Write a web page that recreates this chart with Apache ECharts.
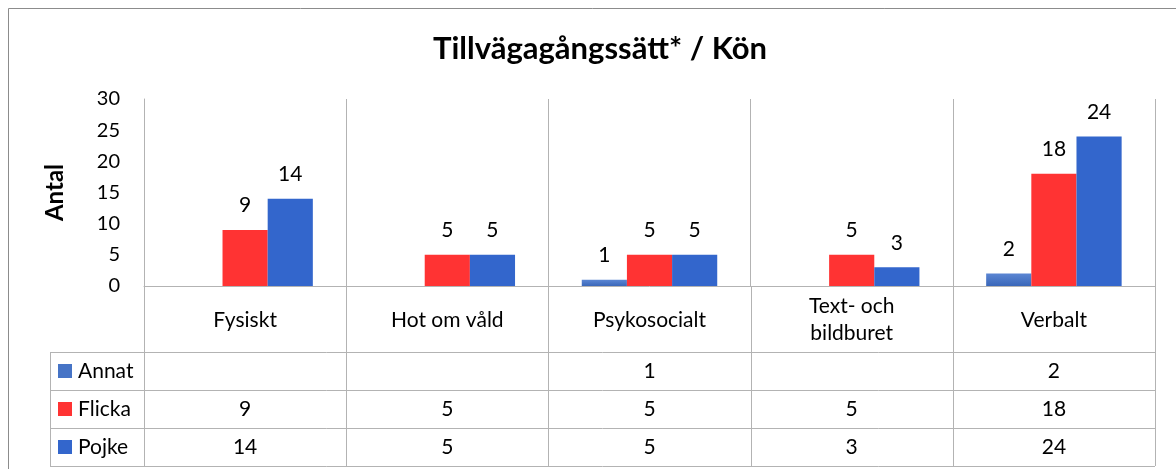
<!DOCTYPE html>
<html>
<head>
<meta charset="utf-8">
<script src="https://cdn.jsdelivr.net/npm/echarts@6/dist/echarts.min.js"></script>
<style>
html,body{margin:0;padding:0;background:#fff;}
#chart{width:1176px;height:469px;}
</style>
</head>
<body>
<div id="chart"></div>
<script>
const title = 'Tillvägagångssätt* / Kön';
const yName = 'Antal';
const categories = ['Fysiskt', 'Hot om våld', 'Psykosocialt', 'Text- och\nbildburet', 'Verbalt'];
const seriesNames = ['Annat', 'Flicka', 'Pojke'];
const annat = [null, null, 1, null, 2];
const flicka = [9, 5, 5, 5, 18];
const pojke = [14, 5, 5, 3, 24];
const yTicks = [0, 5, 10, 15, 20, 25, 30];

const FONT = 'Lato';
const FS = 21;
const GRID = '#b3b3b3';
const annatColor = {type:'linear', x:0, y:0, x2:0, y2:1, colorStops:[{offset:0,color:'#5b86d3'},{offset:1,color:'#3a67b9'}]};
const colors = [annatColor, '#ff3333', '#3366cc'];
const legendColors = ['#4674c6', '#ff3333', '#3366cc'];
const values = [annat, flicka, pojke];

const chart = echarts.init(document.getElementById('chart'), null, {renderer:'canvas'});
const gridL = 144, gridR = 21, gridT = 99, gridB = 183;

const option = {
  animation: false,
  title: {
    text: title, left: 595, top: 28, textAlign: 'center',
    textStyle: {fontFamily: FONT, fontWeight: 'bold', fontSize: 31, color: '#000'}
  },
  grid: {left: gridL, right: gridR, top: gridT, bottom: gridB, containLabel: false},
  xAxis: {
    type: 'category', data: categories,
    axisLine: {show: true, lineStyle: {color: GRID, width: 1}},
    axisTick: {show: false},
    splitLine: {show: true, lineStyle: {color: GRID, width: 1}},
    axisLabel: {fontFamily: FONT, fontSize: FS, color: '#000', margin: 34, verticalAlign: 'middle', lineHeight: 27, interval: 0}
  },
  yAxis: {
    type: 'value', min: yTicks[0], max: yTicks[yTicks.length-1], interval: 5,
    name: yName, nameLocation: 'middle', nameRotate: 90, nameGap: 77,
    nameTextStyle: {fontFamily: FONT, fontWeight: 'bold', fontSize: 24, color: '#000'},
    axisLine: {show: true, lineStyle: {color: GRID}},
    axisTick: {show: false},
    splitLine: {show: false},
    axisLabel: {fontFamily: FONT, fontSize: 20, color: '#000', margin: 24}
  },
  series: seriesNames.map((n, i) => ({
    name: n, type: 'bar', data: values[i],
    barGap: '0%', barCategoryGap: '33%',
    itemStyle: {color: colors[i]},
    label: {show: true, position: 'top', distance: 14, fontFamily: FONT, fontSize: FS, color: '#000'}
  }))
};
chart.setOption(option);

// Data table below the plot, positioned from the axis scale
function buildTable() {
  const n = categories.length;
  const x0 = chart.convertToPixel({xAxisIndex: 0}, 0);
  const x1 = chart.convertToPixel({xAxisIndex: 0}, 1);
  const band = x1 - x0;
  const left = x0 - band / 2;
  const right = left + band * n;
  const axisY = chart.convertToPixel({yAxisIndex: 0}, 0);
  const labelRowH = 66;
  const rowH = 38;
  const tableTop = axisY + labelRowH;
  const legendLeft = 50;
  const bottom = tableTop + rowH * seriesNames.length;
  const els = [];
  const line = (xa, ya, xb, yb) => els.push({type:'line', silent:true, shape:{x1:xa, y1:ya, x2:xb, y2:yb}, style:{stroke:GRID, lineWidth:1}});
  for (let i = 0; i <= n; i++) {
    const x = Math.round(left + band * i) + 0.5;
    line(x, axisY, x, bottom);
  }
  line(legendLeft + 0.5, tableTop, legendLeft + 0.5, bottom);
  for (let r = 0; r <= seriesNames.length; r++) {
    const y = Math.round(tableTop + rowH * r) + 0.5;
    line(legendLeft, y, right, y);
  }
  seriesNames.forEach((name, r) => {
    const cy = tableTop + rowH * r + rowH / 2;
    els.push({type:'rect', silent:true, shape:{x: legendLeft + 8, y: cy - 7, width: 14, height: 14}, style:{fill: legendColors[r]}});
    els.push({type:'text', silent:true, x: legendLeft + 28, y: cy, style:{text: name, fontFamily: FONT, fontSize: FS, fill:'#000', verticalAlign:'middle'}});
    values[r].forEach((v, c) => {
      if (v === null) return;
      els.push({type:'text', silent:true, x: left + band * c + band / 2, y: cy, style:{text: String(v), fontFamily: FONT, fontSize: FS, fill:'#000', align:'center', verticalAlign:'middle'}});
    });
  });
  els.push({type:'rect', silent:true, shape:{x: 8.5, y: 8.5, width: 1200, height: 500}, style:{fill:'none', stroke:'#8c8c8c', lineWidth:1}});
  chart.setOption({graphic: els});
}
buildTable();
</script>
</body>
</html>
